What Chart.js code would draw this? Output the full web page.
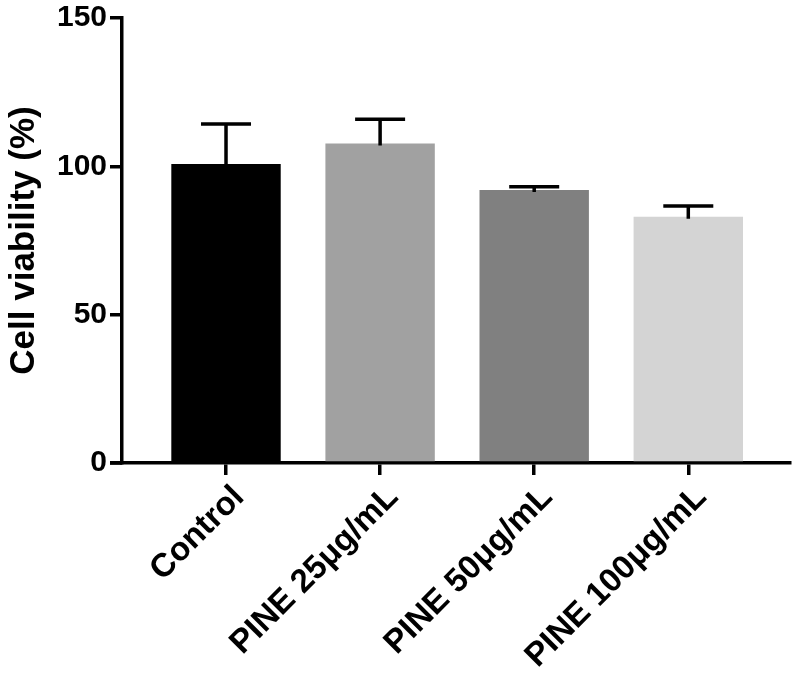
<!DOCTYPE html>
<html>
<head>
<meta charset="utf-8">
<script src="https://cdn.jsdelivr.net/npm/chart.js@4.4.1/dist/chart.umd.min.js"></script>
<style>
  html, body { margin: 0; padding: 0; background: #fff; }
  #wrap { width: 800px; height: 676px; }
</style>
</head>
<body>
<div id="wrap"><canvas id="myCanvasBarGraph"></canvas></div>
<script>
// values
var groups = ["Control", "PINE 25μg/mL", "PINE 50μg/mL", "PINE 100μg/mL"];
var viability = [100.8, 107.7, 92.0, 83.0];
var sdUpper = [13.5, 8.2, 1.1, 3.6];
var barColors = ["#000000", "#a1a1a1", "#808080", "#d4d4d4"];
var yTicks = [0, 50, 100, 150];

var FONT = "'Liberation Sans', Arial, Helvetica, sans-serif";
var LW = 3.5;

// error bars (upper only) + x axis overhang past the y axis
var errorBars = {
	id: 'errorBars',
	afterDatasetsDraw: function(chart){
		var ctx = chart.ctx;
		var y = chart.scales.y;
		var meta = chart.getDatasetMeta(0);
		ctx.save();
		ctx.strokeStyle = '#000';
		ctx.lineWidth = LW;
		ctx.lineCap = 'butt';
		meta.data.forEach(function(bar, i){
			var top = y.getPixelForValue(viability[i] + sdUpper[i]);
			ctx.beginPath();
			ctx.moveTo(bar.x, bar.y + 2);
			ctx.lineTo(bar.x, top);
			ctx.moveTo(bar.x - 25, top);
			ctx.lineTo(bar.x + 25, top);
			ctx.stroke();
		});
		ctx.restore();
	},
	afterDraw: function(chart){
		var ctx = chart.ctx;
		var a = chart.chartArea;
		ctx.save();
		ctx.strokeStyle = '#000';
		ctx.lineWidth = LW;
		ctx.beginPath();
		ctx.moveTo(110, a.bottom);
		ctx.lineTo(a.left, a.bottom);
		ctx.stroke();
		ctx.restore();
	}
};

var chartdata = {
	datasets: [
		{
			label: "Cell viability",
			data: groups.map(function(g, i){ return { x: i, y: viability[i] }; }),
			backgroundColor: barColors,
			borderWidth: 0,
			barPercentage: 0.71,
			categoryPercentage: 1.0
		}
	]
};

var ctx = document.getElementById('myCanvasBarGraph');

var BarGraph = new Chart(ctx, {
	type: 'bar',
	data: chartdata,
	plugins: [errorBars],
	options: {
		responsive: true,
		maintainAspectRatio: false,
		animation: false,
		layout: { padding: { left: 3, right: 10, top: 0, bottom: 0 } },
		plugins: {
			legend: { display: false },
			tooltip: { enabled: false }
		},
		scales: {
			x: {
				type: 'linear',
				min: -0.675,
				max: 3.66,
				offset: false,
				z: 1,
				afterBuildTicks: function(scale){
					scale.ticks = groups.map(function(g, i){ return { value: i }; });
				},
				afterFit: function(scale){ scale.height = 213; },
				border: { display: true, color: '#000', width: LW },
				grid: {
					offset: false,
					drawOnChartArea: false,
					drawTicks: true,
					tickLength: 12,
					color: '#000',
					lineWidth: LW
				},
				ticks: {
					autoSkip: false,
					minRotation: 45,
					maxRotation: 45,
					padding: 3,
					labelOffset: 13,
					color: '#000',
					font: { family: FONT, size: 33, weight: 'bold' },
					callback: function(v){ return groups[v]; }
				}
			},
			y: {
				min: 0,
				max: 150,
				z: 1,
				afterBuildTicks: function(scale){
					scale.ticks = yTicks.map(function(v){ return { value: v }; });
				},
				afterFit: function(scale){ scale.width = 119; },
				border: { display: true, color: '#000', width: LW },
				grid: {
					drawOnChartArea: false,
					drawTicks: true,
					tickLength: 12,
					color: '#000',
					lineWidth: LW
				},
				ticks: {
					padding: 3,
					color: '#000',
					font: { family: FONT, size: 30, weight: 'bold', lineHeight: 1 }
				},
				title: {
					display: true,
					text: 'Cell viability (%)',
					color: '#000',
					padding: 0,
					font: { family: FONT, size: 35, weight: 'bold' }
				}
			}
		}
	}
});
</script>
</body>
</html>
